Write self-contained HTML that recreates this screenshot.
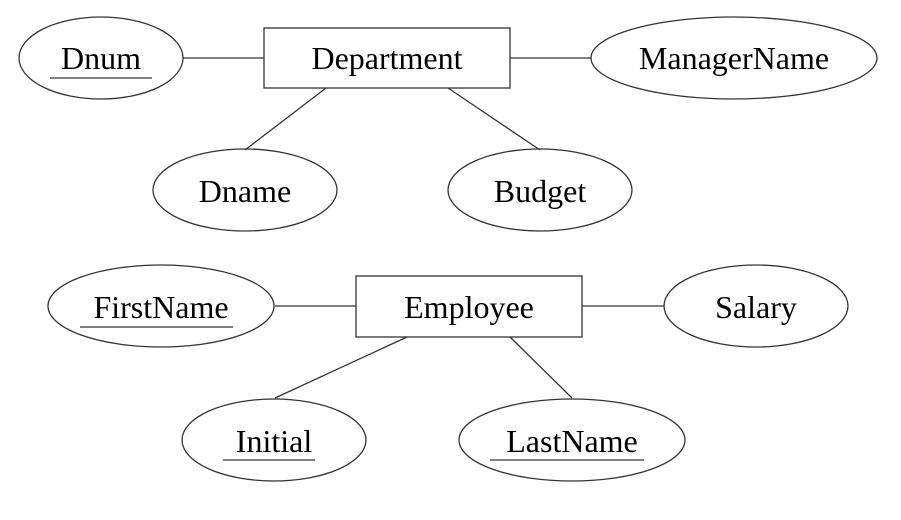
<!DOCTYPE html>
<html><head><style>html,body{margin:0;padding:0;background:#fff;}</style></head>
<body>
<svg width="901" height="515" viewBox="0 0 901 515" xmlns="http://www.w3.org/2000/svg" font-family="'Liberation Serif', serif" font-size="32" text-anchor="middle">
<g stroke="#333" stroke-width="1.3" fill="none">
<line x1="183" y1="58" x2="264" y2="58"/>
<line x1="510" y1="58" x2="591" y2="58"/>
<line x1="326" y1="88" x2="245" y2="150"/>
<line x1="448" y1="88" x2="540" y2="150"/>
<line x1="275" y1="306" x2="356" y2="306"/>
<line x1="582" y1="306" x2="664" y2="306"/>
<line x1="407" y1="337" x2="275" y2="398"/>
<line x1="510" y1="337" x2="572" y2="398"/>
<rect x="264" y="28" width="246" height="60"/>
<rect x="356" y="276" width="226" height="61"/>
<ellipse cx="101" cy="58" rx="82" ry="41"/>
<ellipse cx="734" cy="58" rx="143" ry="41"/>
<ellipse cx="245" cy="190" rx="92" ry="41"/>
<ellipse cx="540" cy="190" rx="92" ry="41"/>
<ellipse cx="161" cy="306" rx="113" ry="41"/>
<ellipse cx="756" cy="306" rx="92" ry="41"/>
<ellipse cx="274" cy="440" rx="92" ry="41"/>
<ellipse cx="572" cy="440" rx="113" ry="41"/>
<line x1="50" y1="78" x2="152" y2="78"/>
<line x1="80" y1="327" x2="233" y2="327"/>
<line x1="223" y1="460" x2="315" y2="460"/>
<line x1="490" y1="460" x2="644" y2="460"/>
</g>
<g fill="#000">
<text x="101" y="69">Dnum</text>
<text x="387" y="69">Department</text>
<text x="734" y="69">ManagerName</text>
<text x="245" y="202">Dname</text>
<text x="540" y="202">Budget</text>
<text x="161" y="318">FirstName</text>
<text x="469" y="318">Employee</text>
<text x="756" y="318">Salary</text>
<text x="274" y="452">Initial</text>
<text x="572" y="452">LastName</text>
</g>
</svg>
</body></html>
